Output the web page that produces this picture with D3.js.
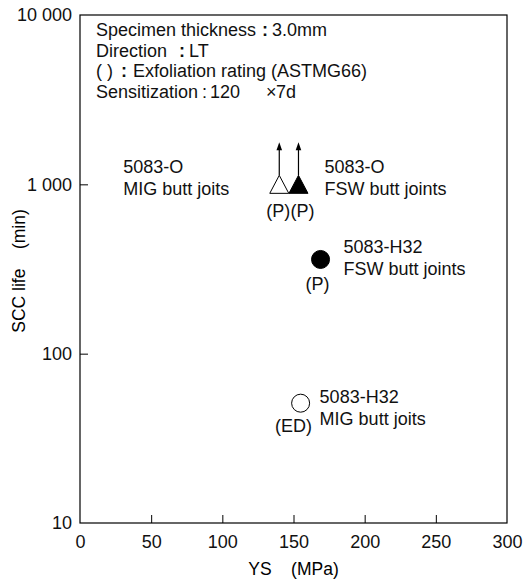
<!DOCTYPE html>
<html>
<head>
<meta charset="utf-8">
<script src="https://cdn.jsdelivr.net/npm/d3@7"></script>
<style>
  body { margin: 0; background: #fff; }
  svg { font-family: "Liberation Sans", Arial, sans-serif; }
</style>
</head>
<body>
<div id="chart"></div>
<script>
"use strict";

// data
const joints = ["5083-O MIG", "5083-O FSW", "5083-H32 FSW", "5083-H32 MIG"];
const yieldStress = [140, 153.5, 169, 155];
const sccLife = [1000, 1000, 360, 51];
const markerShape = ["triangle", "triangle", "circle", "circle"];
const markerFilled = [false, true, true, false];
const stillRunning = [true, true, false, false];
const ratings = ["(P)", "(P)", "(P)", "(ED)"];
const alloyLabels = ["5083-O", "5083-O", "5083-H32", "5083-H32"];
const weldLabels = ["MIG butt joits", "FSW butt joints", "FSW butt joints", "MIG butt joits"];

const xTicks = [0, 50, 100, 150, 200, 250, 300];
const yTicks = [10, 100, 1000, 10000];
const yTickLabels = ["10", "100", "1 000", "10 000"];

const w = 525, h = 580;
const margin = { top: 15, right: 18, bottom: 57, left: 80 };

const svg = d3.select("#chart").append("svg")
  .attr("width", w)
  .attr("height", h);

const x = d3.scaleLinear().domain([0, 300]).range([margin.left, w - margin.right]);
const y = d3.scaleLog().domain([10, 10000]).range([h - margin.bottom, margin.top]);

// frame
svg.append("rect")
  .attr("x", x(0)).attr("y", y(10000))
  .attr("width", x(300) - x(0)).attr("height", y(10) - y(10000))
  .attr("fill", "none").attr("stroke", "#000").attr("stroke-width", 1.2);

// x axis, ticks pointing inward
const xAxis = svg.append("g")
  .attr("transform", `translate(0,${y(10)})`)
  .call(d3.axisBottom(x).tickValues(xTicks).tickSizeInner(-8).tickSizeOuter(0).tickPadding(12));
xAxis.select(".domain").remove();
xAxis.selectAll(".tick line").filter(d => d === 0 || d === 300).remove();
xAxis.selectAll("text").attr("font-size", 18).attr("fill", "#111").attr("font-family", null);

const yAxis = svg.append("g")
  .attr("transform", `translate(${x(0)},0)`)
  .call(d3.axisLeft(y).tickValues(yTicks).tickFormat((d, i) => yTickLabels[i])
    .tickSizeInner(-8).tickSizeOuter(0).tickPadding(8));
yAxis.select(".domain").remove();
yAxis.selectAll(".tick line").filter(d => d === 10 || d === 10000).remove();
yAxis.selectAll("text").attr("font-size", 18).attr("fill", "#111").attr("font-family", null);

// axis titles
svg.append("text")
  .attr("x", (x(0) + x(300)) / 2).attr("y", 575)
  .attr("text-anchor", "middle").attr("font-size", 17.5)
  .attr("xml:space", "preserve")
  .text("YS    (MPa)");

svg.append("text")
  .attr("transform", `translate(25,${(y(10) + y(10000)) / 2 + 2}) rotate(-90)`)
  .attr("text-anchor", "middle").attr("font-size", 17.5)
  .attr("xml:space", "preserve")
  .text("SCC life    (min)");

// conditions note: [label, colon, value], with colon/value columns per line
const note = [
  ["Specimen thickness", ":", "3.0mm"],
  ["Direction", ":", "LT"],
  ["( )", ":", "Exfoliation rating (ASTMG66)"],
  ["Sensitization", ":", "120", "\u00d7", "7d"]
];
const noteCols = [
  [96, 262, 272],
  [96, 179, 189],
  [96, 121, 133],
  [96, 202, 210, 266, 276]
];
const noteG = svg.append("g").attr("font-size", 18).attr("fill", "#111");
note.forEach((parts, i) => {
  const t = noteG.append("text").attr("y", 36 + i * 20.5);
  parts.forEach((s, k) => {
    t.append("tspan")
      .attr("x", noteCols[i][k])
      .attr("font-weight", k === 1 && i < 3 ? "bold" : "normal")
      .text(s);
  });
});

// markers
const pts = joints.map((name, i) => ({
  name, i,
  cx: x(yieldStress[i]),
  cy: y(sccLife[i])
}));

const triHalfW = 9.5, triHalfH = 9;
const marks = svg.append("g");
pts.forEach(p => {
  const fill = markerFilled[p.i] ? "#000" : "#fff";
  if (stillRunning[p.i]) {
    const top = p.cy - triHalfH;
    const tip = p.cy - 42;
    marks.append("line")
      .attr("x1", p.cx).attr("x2", p.cx)
      .attr("y1", top).attr("y2", tip + 6)
      .attr("stroke", "#000").attr("stroke-width", 1.2);
    marks.append("path")
      .attr("d", `M${p.cx},${tip}L${p.cx - 2.8},${tip + 8}L${p.cx + 2.8},${tip + 8}Z`)
      .attr("fill", "#000");
  }
  if (markerShape[p.i] === "triangle") {
    marks.append("path")
      .attr("d", `M${p.cx},${p.cy - triHalfH}L${p.cx + triHalfW},${p.cy + triHalfH}L${p.cx - triHalfW},${p.cy + triHalfH}Z`)
      .attr("fill", fill).attr("stroke", "#000").attr("stroke-width", 1);
  } else {
    marks.append("circle")
      .attr("cx", p.cx).attr("cy", p.cy).attr("r", 9)
      .attr("fill", fill).attr("stroke", "#000").attr("stroke-width", 1);
  }
});

// label placement relative to each marker
const labelOffset = [
  { dx: -156, dy: -11 },
  { dx: 26, dy: -11 },
  { dx: 23, dy: -6 },
  { dx: 19, dy: 0 }
];
const ratingOffset = [
  { dx: -1, dy: 33 },
  { dx: 4, dy: 33 },
  { dx: -3, dy: 31 },
  { dx: -7, dy: 29 }
];

const labels = svg.append("g").attr("font-size", 18).attr("fill", "#111");
pts.forEach(p => {
  const o = labelOffset[p.i];
  const t = labels.append("text").attr("x", p.cx + o.dx).attr("y", p.cy + o.dy);
  t.append("tspan").text(alloyLabels[p.i]);
  t.append("tspan").attr("x", p.cx + o.dx).attr("dy", 22).text(weldLabels[p.i]);

  const r = ratingOffset[p.i];
  labels.append("text")
    .attr("x", p.cx + r.dx).attr("y", p.cy + r.dy)
    .attr("text-anchor", "middle")
    .text(ratings[p.i]);
});
</script>
</body>
</html>
